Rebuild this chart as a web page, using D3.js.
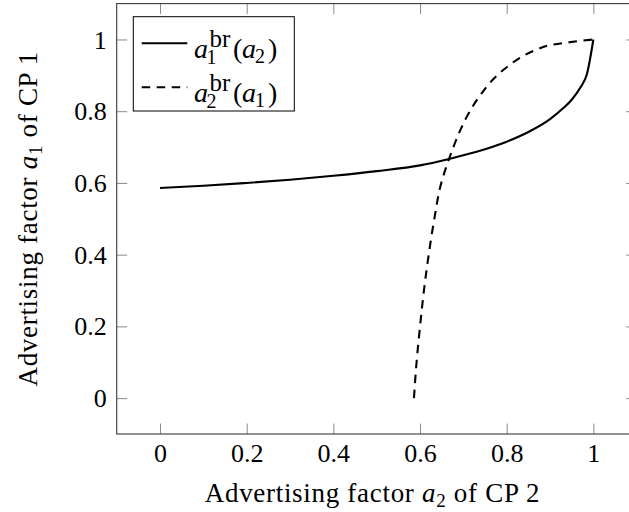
<!DOCTYPE html>
<html><head><meta charset="utf-8">
<script src="https://cdn.jsdelivr.net/npm/d3@7"></script>
<style>body{margin:0;background:#fff}svg{display:block}text{font-family:'Liberation Serif','DejaVu Serif',serif}</style>
</head><body>
<svg id="c" width="629" height="512"></svg>
<script>
// a1^br(a2): x = a2, y = a1
const solidX = [0, 0.1, 0.2, 0.3, 0.4, 0.5, 0.6, 0.667, 0.7, 0.75, 0.8, 0.85, 0.9, 0.93, 0.95, 0.97, 0.985, 1];
const solidY = [0.586, 0.592, 0.600, 0.609, 0.620, 0.633, 0.649, 0.667, 0.677, 0.694, 0.715, 0.742, 0.778, 0.808, 0.832, 0.866, 0.903, 1];
// a2^br(a1): x = a2, y = a1
const dashX = [0.586, 0.592, 0.600, 0.609, 0.620, 0.633, 0.649, 0.667, 0.677, 0.694, 0.715, 0.742, 0.778, 0.808, 0.832, 0.866, 0.903, 1];
const dashY = [0, 0.1, 0.2, 0.3, 0.4, 0.5, 0.6, 0.667, 0.7, 0.75, 0.8, 0.85, 0.9, 0.93, 0.95, 0.97, 0.985, 1];
const xTicks = [0, 0.2, 0.4, 0.6, 0.8, 1];
const yTicks = [0, 0.2, 0.4, 0.6, 0.8, 1];
const xDomain = [-0.1, 1.1];
const yDomain = [-0.1, 1.1];

const svg = d3.select("#c");
const L = 116.7, R = 636.7, T = 3.6, B = 434;
const x = d3.scaleLinear().domain(xDomain).range([L, R]);
const y = d3.scaleLinear().domain(yDomain).range([B, T]);
const FONT = "'Liberation Serif', 'DejaVu Serif', serif";
const FS = 26, TL = 10.5;
const DASH = "8.5,6.5";
const fmt = d => d === 0 ? "0" : d === 1 ? "1" : String(d);

function styleAxis(g) {
  g.attr("font-family", FONT).attr("font-size", FS);
  g.select(".domain").remove();
  g.selectAll(".tick line").attr("stroke", "#8a8a8a").attr("stroke-width", 1);
  g.selectAll(".tick text").attr("font-family", FONT).attr("font-size", FS).attr("fill", "#000");
}
svg.append("g").attr("transform", `translate(0,${B})`)
  .call(d3.axisBottom(x).tickValues(xTicks).tickSize(-TL).tickFormat(fmt))
  .call(styleAxis)
  .selectAll(".tick text").attr("dy", 0).attr("y", 28);
svg.append("g").attr("transform", `translate(0,${T})`)
  .call(d3.axisTop(x).tickValues(xTicks).tickSize(-TL).tickFormat(""))
  .call(styleAxis);
svg.append("g").attr("transform", `translate(${L},0)`)
  .call(d3.axisLeft(y).tickValues(yTicks).tickSize(-TL).tickPadding(10).tickFormat(fmt))
  .call(styleAxis)
  .selectAll(".tick text").attr("dy", "0.33em");
svg.append("g").attr("transform", `translate(${R},0)`)
  .call(d3.axisRight(y).tickValues(yTicks).tickSize(-TL).tickFormat(""))
  .call(styleAxis);

// frame
svg.append("rect").attr("x", L).attr("y", T).attr("width", R - L).attr("height", B - T)
  .attr("fill", "none").attr("stroke", "#3a3a3a").attr("stroke-width", 1.1);

// curves
const solid = solidX.map((v, i) => [v, solidY[i]]);
const dashed = dashX.map((v, i) => [v, dashY[i]]);
svg.append("path").datum(solid)
  .attr("d", d3.line().x(d => x(d[0])).y(d => y(d[1])).curve(d3.curveMonotoneX))
  .attr("fill", "none").attr("stroke", "#000").attr("stroke-width", 2.1);
svg.append("path").datum(dashed)
  .attr("d", d3.line().x(d => x(d[0])).y(d => y(d[1])).curve(d3.curveMonotoneY))
  .attr("fill", "none").attr("stroke", "#000").attr("stroke-width", 2.1)
  .attr("stroke-dasharray", DASH);

// axis labels
function axisLabel(sel, sub, cp) {
  sel.append("tspan").text("Advertising factor ");
  sel.append("tspan").attr("font-style", "italic").text("a");
  sel.append("tspan").attr("font-size", 19).attr("dy", 5).text(sub);
  sel.append("tspan").attr("dy", -5).text(" of CP " + cp);
}
const xl = svg.append("text").attr("x", 372.5).attr("y", 502).attr("text-anchor", "middle")
  .attr("font-family", FONT).attr("font-size", 27).attr("letter-spacing", 0.7);
axisLabel(xl, "2", "2");
const yl = svg.append("text").attr("transform", `translate(36.5,${y(0.5)}) rotate(-90)`)
  .attr("text-anchor", "middle").attr("font-family", FONT).attr("font-size", 27).attr("letter-spacing", 0.7);
axisLabel(yl, "1", "1");

// legend
const lg = svg.append("g");
lg.append("rect").attr("x", 133.3).attr("y", 16.7).attr("width", 161).attr("height", 94.3)
  .attr("fill", "#fff").attr("stroke", "#000").attr("stroke-width", 1);
const entries = [
  {dash: null, sub: "1", arg: "2", ly: 43.3},
  {dash: DASH, sub: "2", arg: "1", ly: 87.3}
];
entries.forEach(e => {
  lg.append("line").attr("x1", 141.7).attr("x2", 187.3).attr("y1", e.ly).attr("y2", e.ly)
    .attr("stroke", "#000").attr("stroke-width", 2.1)
    .attr("stroke-dasharray", e.dash);
  const base = e.ly + 14.7;
  const g = lg.append("g").attr("font-family", FONT);
  g.append("text").attr("x", 194).attr("y", base).attr("font-size", 28).attr("font-style", "italic").text("a");
  g.append("text").attr("x", 206.5).attr("y", base + 6).attr("font-size", 20).text(e.sub);
  g.append("text").attr("x", 209.5).attr("y", base - 11).attr("font-size", 25).text("br");
  g.append("text").attr("x", 233).attr("y", base).attr("font-size", 28).text("(");
  g.append("text").attr("x", 242).attr("y", base).attr("font-size", 28).attr("font-style", "italic").text("a");
  g.append("text").attr("x", 255).attr("y", base + 5).attr("font-size", 20).text(e.arg);
  g.append("text").attr("x", 268).attr("y", base).attr("font-size", 28).text(")");
});
</script>
</body></html>
